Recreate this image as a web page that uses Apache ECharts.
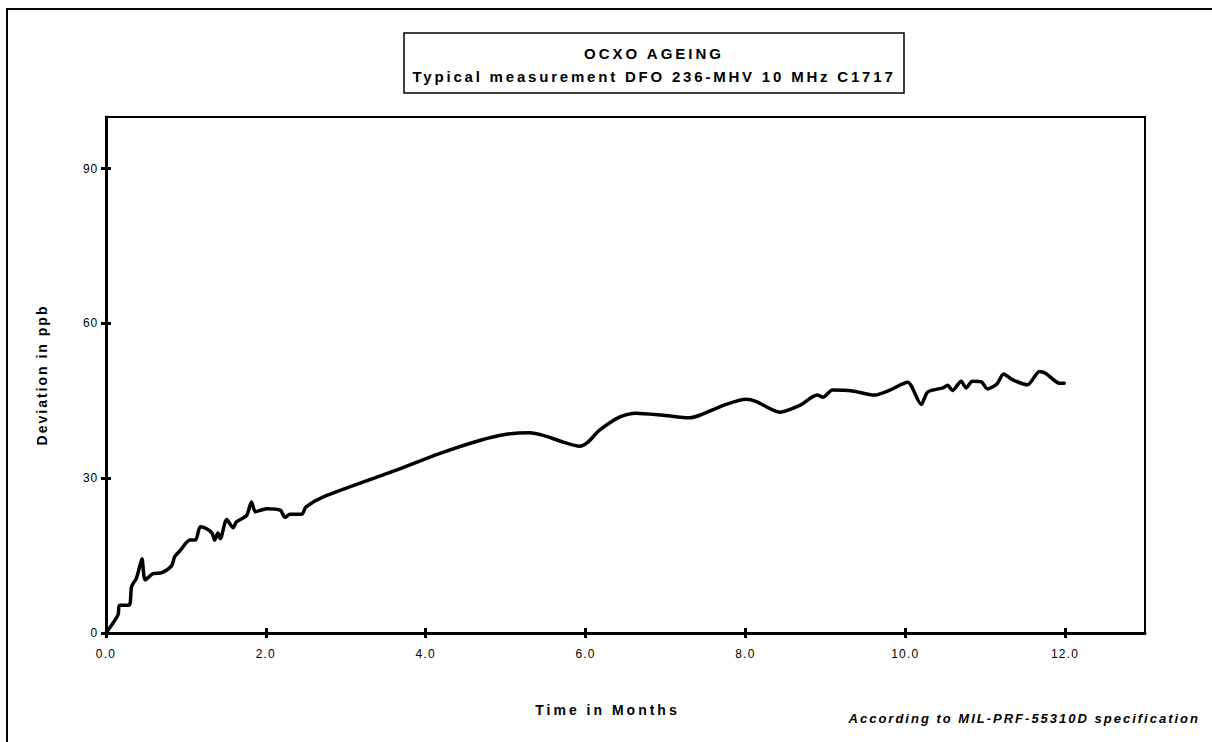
<!DOCTYPE html>
<html>
<head>
<meta charset="utf-8">
<script src="https://cdn.jsdelivr.net/npm/echarts@6/dist/echarts.min.js"></script>
<style>
html,body{margin:0;padding:0;background:#fff;}
#chart{width:1212px;height:742px;}
</style>
</head>
<body>
<div id="chart"></div>
<script>
// ---- data ----
const months = [0, 0.15, 0.17, 0.29, 0.32, 0.38, 0.42, 0.45, 0.49, 0.59, 0.70, 0.82, 0.86, 0.93, 1.05, 1.12, 1.18, 1.26, 1.33, 1.36, 1.40, 1.43, 1.51, 1.59, 1.63, 1.76, 1.82, 1.87, 2.01, 2.18, 2.24, 2.30, 2.45, 2.50, 2.72, 3.675, 4.18, 4.675, 5.01, 5.3, 5.47, 5.72, 5.925, 6.03, 6.175, 6.43, 6.63, 6.97, 7.3, 7.43, 7.76, 8.01, 8.13, 8.43, 8.68, 8.9, 8.97, 9.09, 9.34, 9.61, 9.8, 10.03, 10.2, 10.28, 10.47, 10.53, 10.59, 10.70, 10.76, 10.84, 10.95, 11.03, 11.15, 11.23, 11.34, 11.53, 11.68, 11.76, 11.93, 11.99];
const deviation = [0, 3.5, 5.4, 5.4, 9, 10.6, 12.8, 14.4, 10.3, 11.5, 11.7, 13, 14.8, 16, 18, 18, 20.6, 20.2, 19.3, 18, 19.4, 18.3, 22, 20.4, 21.5, 22.8, 25.4, 23.5, 24.1, 23.8, 22.4, 23, 23, 24.4, 26.4, 31.8, 34.8, 37.3, 38.5, 38.8, 38.3, 37, 36.2, 37, 39.3, 41.9, 42.6, 42.2, 41.7, 42.2, 44.3, 45.3, 44.9, 42.8, 44.1, 46.1, 45.7, 47.1, 46.9, 46.1, 47, 48.6, 44.3, 46.7, 47.5, 48, 47, 48.8, 47.5, 48.8, 48.7, 47.3, 48.3, 50.2, 49.1, 48.1, 50.7, 50.3, 48.4, 48.4];
const xTicks = [0, 2, 4, 6, 8, 10, 12];
const yTicks = [0, 30, 60, 90];
const titleLine1 = 'OCXO AGEING';
const titleLine2 = 'Typical measurement DFO 236-MHV 10 MHz C1717';
const xName = 'Time in Months';
const yName = 'Deviation in ppb';
const noteText = 'According to MIL-PRF-55310D specification';

const FONT = '"Liberation Sans", Arial, sans-serif';
const points = months.map((m, i) => [m, deviation[i]]);

const chart = echarts.init(document.getElementById('chart'), null, {renderer: 'svg'});

const tickStyle = {color: '#000', width: 3};
const option = {
  backgroundColor: '#fff',
  animation: false,
  grid: {
    left: 106, right: 67, top: 117, bottom: 109,
    show: true, borderColor: '#000', borderWidth: 2, backgroundColor: 'transparent',
    containLabel: false, outerBoundsMode: 'none'
  },
  xAxis: [{
    type: 'value', min: 0, max: 13, position: 'bottom',
    name: xName, nameLocation: 'middle', nameGap: 70,
    nameTextStyle: {fontFamily: FONT, fontWeight: 'bold', fontSize: 14, color: '#000', padding: [0, 36, 0, 0]},
    axisLine: {show: true, onZero: false, lineStyle: {color: '#000', width: 3}},
    axisTick: {show: true, inside: false, length: 5, customValues: xTicks, lineStyle: tickStyle},
    axisLabel: {show: true, customValues: xTicks, margin: 15, fontFamily: FONT, fontSize: 12, color: '#000',
      formatter: v => Number(v).toFixed(1)},
    splitLine: {show: false}
  }, {
    type: 'value', min: 0, max: 13, position: 'bottom',
    axisLine: {show: false},
    axisTick: {show: true, inside: true, length: 5, customValues: xTicks, lineStyle: tickStyle},
    axisLabel: {show: false},
    splitLine: {show: false}
  }],
  yAxis: [{
    type: 'value', min: 0, max: 100, position: 'left',
    name: yName, nameLocation: 'middle', nameGap: 57,
    nameTextStyle: {fontFamily: FONT, fontWeight: 'bold', fontSize: 14, color: '#000'},
    axisLine: {show: true, onZero: false, lineStyle: {color: '#000', width: 3}},
    axisTick: {show: true, inside: false, length: 5, customValues: yTicks, lineStyle: tickStyle},
    axisLabel: {show: true, customValues: yTicks, margin: 8, fontFamily: FONT, fontSize: 12, color: '#000'},
    splitLine: {show: false}
  }, {
    type: 'value', min: 0, max: 100, position: 'left',
    axisLine: {show: false},
    axisTick: {show: true, inside: true, length: 5, customValues: yTicks, lineStyle: tickStyle},
    axisLabel: {show: false},
    splitLine: {show: false}
  }],
  series: [{
    type: 'line',
    xAxisIndex: 0, yAxisIndex: 0,
    data: points,
    smooth: 0.25,
    showSymbol: false,
    symbol: 'none',
    lineStyle: {color: '#000', width: 3.5, join: 'round', cap: 'round'},
    silent: true
  }],
  graphic: [
    {type: 'rect', silent: true, z: 100,
      shape: {x: 7, y: 9, width: 1400, height: 1000},
      style: {fill: 'none', stroke: '#000', lineWidth: 2}},
    {type: 'rect', silent: true, z: 100,
      shape: {x: 404, y: 33, width: 500, height: 60},
      style: {fill: '#fff', stroke: '#000', lineWidth: 1.5}},
    {type: 'text', silent: true, z: 101, x: 654, y: 53,
      style: {text: titleLine1, fontFamily: FONT, fontWeight: 'bold', fontSize: 15, fill: '#000',
        align: 'center', verticalAlign: 'middle'}},
    {type: 'text', silent: true, z: 101, x: 654, y: 76,
      style: {text: titleLine2, fontFamily: FONT, fontWeight: 'bold', fontSize: 15, fill: '#000',
        align: 'center', verticalAlign: 'middle'}},
    {type: 'text', silent: true, z: 101, x: 1200, y: 718,
      style: {text: noteText, fontFamily: FONT, fontWeight: 'bold', fontStyle: 'italic', fontSize: 13, fill: '#000',
        align: 'right', verticalAlign: 'middle'}}
  ]
};
chart.setOption(option);

// wide glyph spacing as in the reference
const spacing = {};
spacing[titleLine1] = 3;
spacing[titleLine2] = 2.8;
spacing[xName] = 3;
spacing[yName] = 2;
spacing[noteText] = 2;
function applySpacing() {
  document.querySelectorAll('#chart svg text').forEach(t => {
    const s = t.textContent;
    let ls = spacing[s];
    if (ls === undefined) {
      ls = /\./.test(s) ? 1.2 : 0.8;
    }
    t.setAttribute('letter-spacing', ls + 'px');
  });
}
chart.on('finished', applySpacing);
applySpacing();
setTimeout(applySpacing, 50);
</script>
</body>
</html>
